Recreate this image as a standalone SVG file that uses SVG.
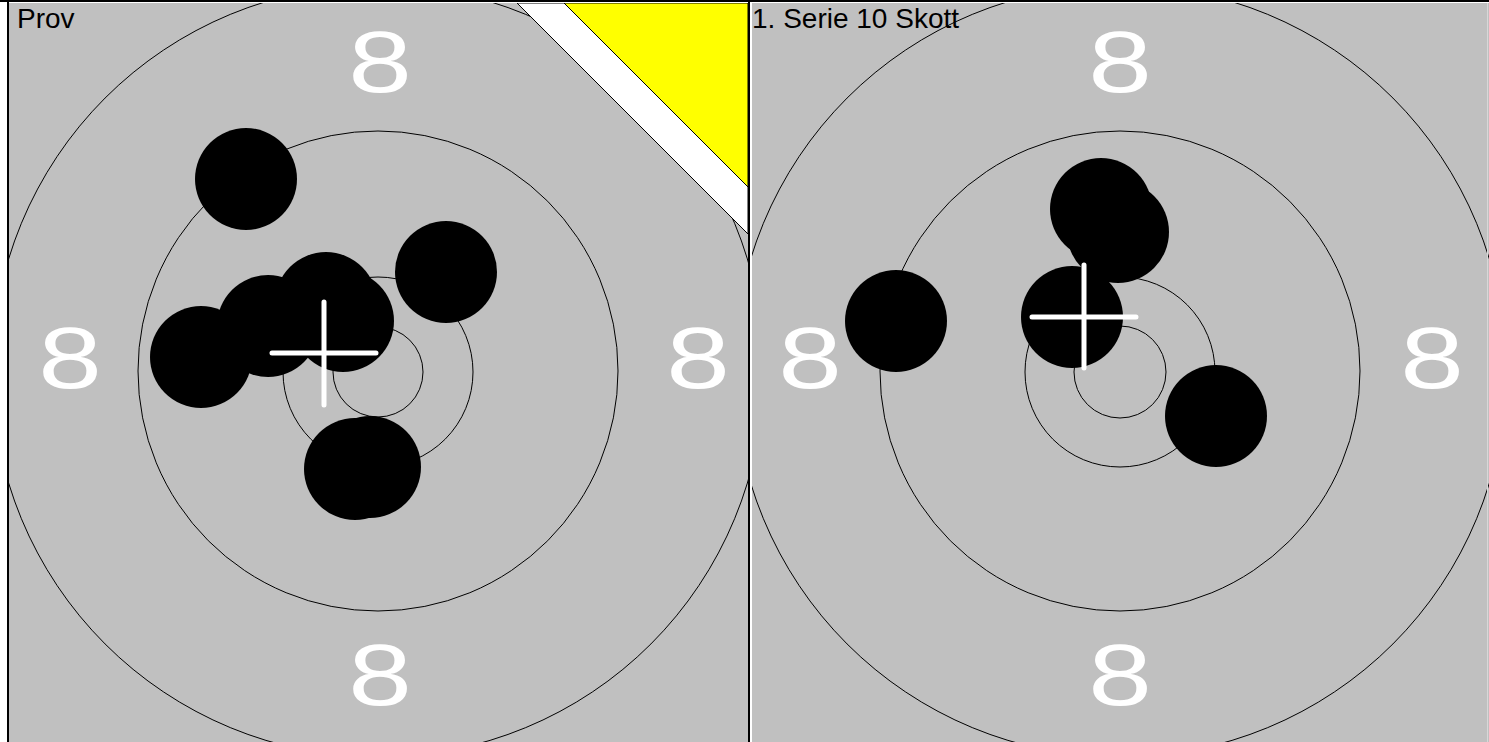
<svg xmlns="http://www.w3.org/2000/svg" width="1489" height="742" viewBox="0 0 1489 742">
<style>
.ring{fill:none;stroke:#000;stroke-width:1}
.shot{fill:#000}
.num{font-family:"Liberation Sans",Arial,sans-serif;font-size:88px;fill:#fff;text-anchor:middle}
.title{font-family:"Liberation Sans",Arial,sans-serif;font-size:28px;fill:#000}
.cross{stroke:#fff;stroke-width:5;stroke-linecap:round;fill:none}
</style>
<defs>
<clipPath id="clipL"><rect x="9" y="3" width="739" height="739"/></clipPath>
<clipPath id="clipR"><rect x="752" y="3" width="737" height="739"/></clipPath>
</defs>
<rect x="0" y="0" width="1489" height="742" fill="#fff"/>
<rect x="0" y="0" width="1489" height="2" fill="#000"/>
<rect x="7" y="0" width="2" height="742" fill="#000"/>
<g id="panel-prov" clip-path="url(#clipL)">
<rect x="9" y="3" width="739" height="739" fill="#c0c0c0"/>
<circle class="ring" cx="378" cy="371" r="386"/>
<circle class="ring" cx="378" cy="371" r="240"/>
<circle class="ring" cx="378" cy="372" r="95"/>
<circle class="ring" cx="378" cy="372" r="45"/>
<text class="num" transform="translate(380,92) scale(1.3,1)">8</text>
<text class="num" transform="translate(70,388) scale(1.3,1)">8</text>
<text class="num" transform="translate(698,388) scale(1.3,1)">8</text>
<text class="num" transform="translate(380,705) scale(1.3,1)">8</text>
<polygon points="517,3 748,3 748,234" fill="#fff" stroke="#000" stroke-width="1"/>
<polygon points="564,3 748,3 748,187" fill="#ff0" stroke="#000" stroke-width="1"/>
<g id="shots-prov">
<circle class="shot" cx="246" cy="179" r="51"/>
<circle class="shot" cx="446" cy="272" r="51"/>
<circle class="shot" cx="201" cy="357" r="51"/>
<circle class="shot" cx="268" cy="326" r="51"/>
<circle class="shot" cx="326" cy="303" r="51"/>
<circle class="shot" cx="343" cy="321" r="51"/>
<circle class="shot" cx="355" cy="469" r="51"/>
<circle class="shot" cx="370" cy="467" r="51"/>
</g>
<path class="cross" d="M272 353H376M324 302V405"/>
<text class="title" x="17" y="28">Prov</text>
</g>
<rect x="748" y="0" width="2" height="742" fill="#000"/>
<g id="panel-serie1" clip-path="url(#clipR)">
<rect x="752" y="3" width="737" height="739" fill="#c0c0c0"/>
<circle class="ring" cx="1120" cy="371" r="386"/>
<circle class="ring" cx="1120" cy="371" r="240"/>
<circle class="ring" cx="1120" cy="372" r="95"/>
<circle class="ring" cx="1120" cy="372" r="46"/>
<text class="num" transform="translate(1120,92) scale(1.3,1)">8</text>
<text class="num" transform="translate(810,388) scale(1.3,1)">8</text>
<text class="num" transform="translate(1432,388) scale(1.3,1)">8</text>
<text class="num" transform="translate(1120,705) scale(1.3,1)">8</text>
<g id="shots-serie1">
<circle class="shot" cx="896" cy="321" r="51"/>
<circle class="shot" cx="1118" cy="232" r="51"/>
<circle class="shot" cx="1101" cy="209" r="51"/>
<circle class="shot" cx="1072" cy="317" r="51"/>
<circle class="shot" cx="1216" cy="416" r="51"/>
</g>
<path class="cross" d="M1032 317H1136M1084 265V368"/>
<text class="title" x="752" y="28">1. Serie 10 Skott</text>
<rect x="1487" y="3" width="1" height="739" fill="#d8d8d8"/>
</g>
</svg>
